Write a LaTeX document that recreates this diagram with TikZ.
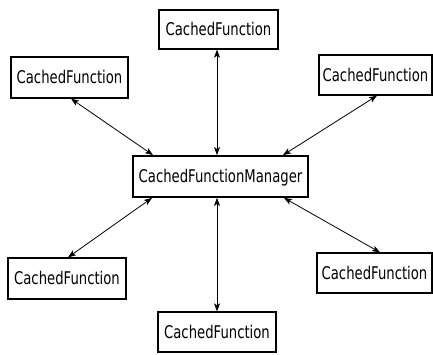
\documentclass[tikz,border=0pt]{standalone}
\usepackage{fontspec}
\newfontfamily\boxfont[FakeStretch=0.755]{DejaVu Sans}
\usetikzlibrary{arrows.meta}
\tikzset{
  fbox/.style={draw=black, line width=1.3pt, inner sep=0pt, align=center,
    font=\boxfont\fontsize{17.5pt}{20pt}\selectfont, text height=12.5pt, text depth=0pt},
  mbox/.style={fbox, line width=1.8pt},
  link/.style={line width=0.8pt, {Stealth[length=8pt,width=6pt,inset=2pt]}-{Stealth[length=8pt,width=6pt,inset=2pt]}}
}
\begin{document}
\begin{tikzpicture}[x=1pt,y=-1pt]
\useasboundingbox (0,0) rectangle (433,354);
\node[mbox, minimum width=175pt, minimum height=41pt] (M) at (220.5,176.5) {CachedFunctionManager};
\node[fbox, minimum width=119pt, minimum height=39pt] (T) at (218.5,29.5) {CachedFunction};
\node[fbox, minimum width=117pt, minimum height=41pt] (TL) at (69.5,77.5) {CachedFunction};
\node[fbox, minimum width=113pt, minimum height=40pt] (TR) at (375.5,75) {CachedFunction};
\node[fbox, minimum width=118pt, minimum height=41pt] (BL) at (67,278.5) {CachedFunction};
\node[fbox, minimum width=115pt, minimum height=40pt] (BR) at (374.5,273) {CachedFunction};
\node[fbox, minimum width=118pt, minimum height=40pt] (B) at (217,332) {CachedFunction};
\draw[link] ([xshift=-3.5pt]M.north) -- ([xshift=-1.5pt]T.south);
\draw[link] ([xshift=-67.5pt]M.north) -- ([xshift=1.5pt]TL.south);
\draw[link] ([xshift=62.5pt]M.north) -- ([xshift=1.5pt]TR.south);
\draw[link] ([xshift=-68.5pt]M.south) -- ([xshift=1pt]BL.north);
\draw[link] ([xshift=-3.5pt]M.south) -- (B.north);
\draw[link] ([xshift=63.5pt]M.south) -- ([xshift=5.5pt]BR.north);
\end{tikzpicture}
\end{document}
